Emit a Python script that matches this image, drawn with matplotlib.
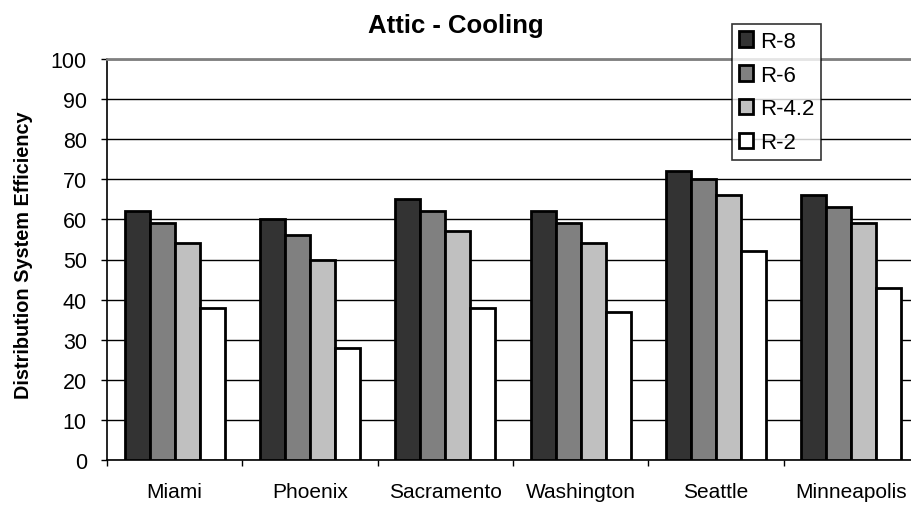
import numpy as np
import matplotlib
matplotlib.use("Agg")
import matplotlib.pyplot as plt

cities = ["Miami", "Phoenix", "Sacramento", "Washington", "Seattle", "Minneapolis"]
series = ["R-8", "R-6", "R-4.2", "R-2"]
r8 = [62, 60, 65, 62, 72, 66]
r6 = [59, 56, 62, 59, 70, 63]
r42 = [54, 50, 57, 54, 66, 59]
r2 = [38, 28, 38, 37, 52, 43]
yticks = list(range(0, 101, 10))

plt.rcParams["font.family"] = ["Liberation Sans", "DejaVu Sans"]

COLORS = ["#333333", "#808080", "#c0c0c0", "#ffffff"]
values = [r8, r6, r42, r2]

W, H = 912, 506
fig = plt.figure(figsize=(W / 100, H / 100), dpi=100)
# plot area runs off the right edge like the original
ax = fig.add_axes([107 / W, 1 - 461 / H, 812 / W, 401 / H])

x = np.arange(len(cities))
w = 0.185
for i, (name, vals) in enumerate(zip(series, values)):
    ax.bar(x + (i - 1.5) * w, vals, width=w, color=COLORS[i],
           edgecolor="black", linewidth=2, label=name, zorder=3)

ax.set_xlim(-0.5, len(cities) - 0.5)
ax.set_ylim(0, 100)
ax.set_yticks(yticks)
ax.tick_params(axis="y", labelsize=15.5, length=4.5, width=1, pad=10, direction="out")
ax.set_xticks(x)
ax.set_xticklabels(cities, fontsize=15)
ax.tick_params(axis="x", length=0, pad=16)
ax.set_xticks(np.arange(len(cities) + 1) - 0.5, minor=True)
ax.tick_params(axis="x", which="minor", length=4.5, width=1, direction="out")

ax.yaxis.grid(True, color="black", linewidth=1, zorder=0)
ax.set_axisbelow(True)
for side in ["top", "right"]:
    ax.spines[side].set_color("#808080")
    ax.spines[side].set_linewidth(2)
ax.spines["left"].set_linewidth(1.2)
ax.spines["bottom"].set_linewidth(1.2)

ax.set_ylabel("Distribution System Efficiency", fontsize=14.3, fontweight="bold")
ax.yaxis.set_label_coords((33 - 107) / 812, (461 - 255) / 401)
fig.text(0.5, 1 - 32.5 / H, "Attic - Cooling", fontsize=18.5, fontweight="bold",
         ha="center", va="baseline")

leg = ax.legend(loc="upper left", bbox_to_anchor=((732 - 107) / 812, (461 - 25) / 401),
                fontsize=16, frameon=True, fancybox=False, edgecolor="black",
                handlelength=0.65, handleheight=0.7, handletextpad=0.3,
                labelspacing=0.58, borderpad=0.3, borderaxespad=0)
leg.get_frame().set_linewidth(1.2)
leg.set_zorder(5)

fig.savefig("out.png", dpi=100)
